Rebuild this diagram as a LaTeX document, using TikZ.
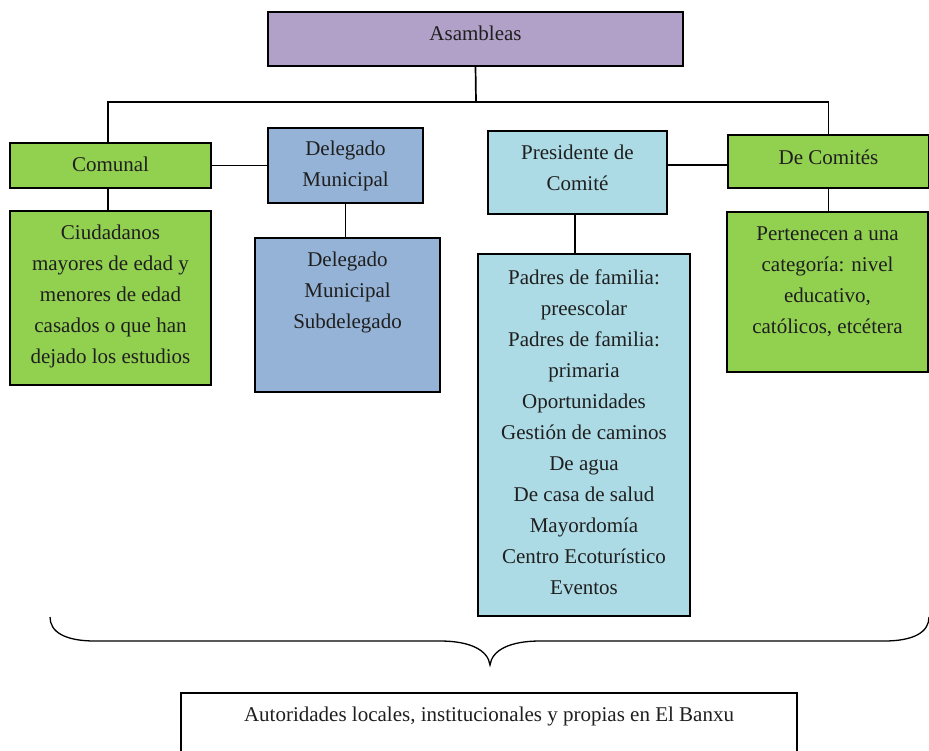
\documentclass[tikz,border=0pt]{standalone}
\usepackage{fontspec}
\setmainfont{Liberation Serif}
\definecolor{purp}{HTML}{B1A0C7}
\definecolor{grn}{HTML}{92D050}
\definecolor{blu}{HTML}{95B3D7}
\definecolor{cyn}{HTML}{ADDBE5}
\begin{document}
\begin{tikzpicture}[x=1pt,y=-1pt,
  box/.style={draw=black,line width=1.8pt,inner sep=0pt,outer sep=0pt},
  txt/.style={align=center,inner sep=0pt,font=\fontsize{21}{31}\selectfont,text=black!88},
  conn/.style={line width=1.7pt}]
\useasboundingbox (0,0) rectangle (929,750);
% boxes
\node[box,fill=purp,minimum width=415,minimum height=54] (asam) at (475.5,39) {};
\node[box,fill=grn,minimum width=201,minimum height=45] (comunal) at (110.5,165.5) {};
\node[box,fill=blu,minimum width=155,minimum height=75] (deleg) at (345.5,165.5) {};
\node[box,fill=cyn,minimum width=179,minimum height=83] (pres) at (577.5,172.5) {};
\node[box,fill=grn,minimum width=201,minimum height=53] (decom) at (828.5,161.5) {};
\node[box,fill=grn,minimum width=201,minimum height=174] (ciud) at (110.5,298) {};
\node[box,fill=blu,minimum width=185,minimum height=154] (sub) at (347.5,315) {};
\node[box,fill=cyn,minimum width=212,minimum height=362] (padres) at (584,435) {};
\node[box,fill=grn,minimum width=201,minimum height=160] (pert) at (827.5,292) {};
\node[box,fill=white,minimum width=616,minimum height=67] (auto) at (489,726.5) {};
% texts
\node[txt] (asam-t) at (475.5,33) {Asambleas};
\node[txt] (comunal-t) at (110.5,164) {Comunal};
\node[txt] (deleg-t) at (345.5,166) {Delegado\\Municipal};
\node[txt] (pres-t) at (577.5,167.5) {Presidente de\\Comité};
\node[txt] (decom-t) at (828.5,157) {De Comités};
\node[txt] (ciud-t) at (110.5,296) {Ciudadanos\\mayores de edad y\\menores de edad\\casados o que han\\dejado los estudios};
\node[txt] (sub-t) at (347.5,292.5) {Delegado\\Municipal\\Subdelegado};
\node[txt] (padres-t) at (584,432) {Padres de familia:\\preescolar\\Padres de familia:\\primaria\\Oportunidades\\Gestión de caminos\\De agua\\De casa de salud\\Mayordomía\\Centro Ecoturístico\\Eventos};
\node[txt] (pert-t) at (827.5,282) {Pertenecen a una\\categoría: nivel\\educativo,\\católicos, etcétera};
\node[txt] (auto-t) at (489,716) {Autoridades locales, institucionales y propias en El Banxu};
% connectors
\coordinate (bar) at (476,102);
\draw[conn] (asam.south) -- (bar);
\draw[conn] (comunal.north -| 108,0) |- (bar) -| (decom.north);
\draw[conn] (comunal.east) -- (deleg.west);
\draw[conn] (decom.west |- 0,165) -- (pres.east |- 0,165);
\draw[conn] (comunal.south -| 108,0) -- (ciud.north -| 108,0);
\draw[conn] (deleg.south) -- (deleg.south |- sub.north);
\draw[conn] (pres.south -| 575,0) -- (padres.north -| 575,0);
\draw[conn] (decom.south) -- (decom.south |- pert.north);
% brace
\draw[line width=1.3pt] (50,617) .. controls (50,632) and (65,641) .. (95,641) -- (440,641)
  .. controls (470,641) and (488,650) .. (490,665)
  .. controls (492,650) and (510,641) .. (540,641) -- (884,641)
  .. controls (914,641) and (929,632) .. (929,617);
\end{tikzpicture}
\end{document}
